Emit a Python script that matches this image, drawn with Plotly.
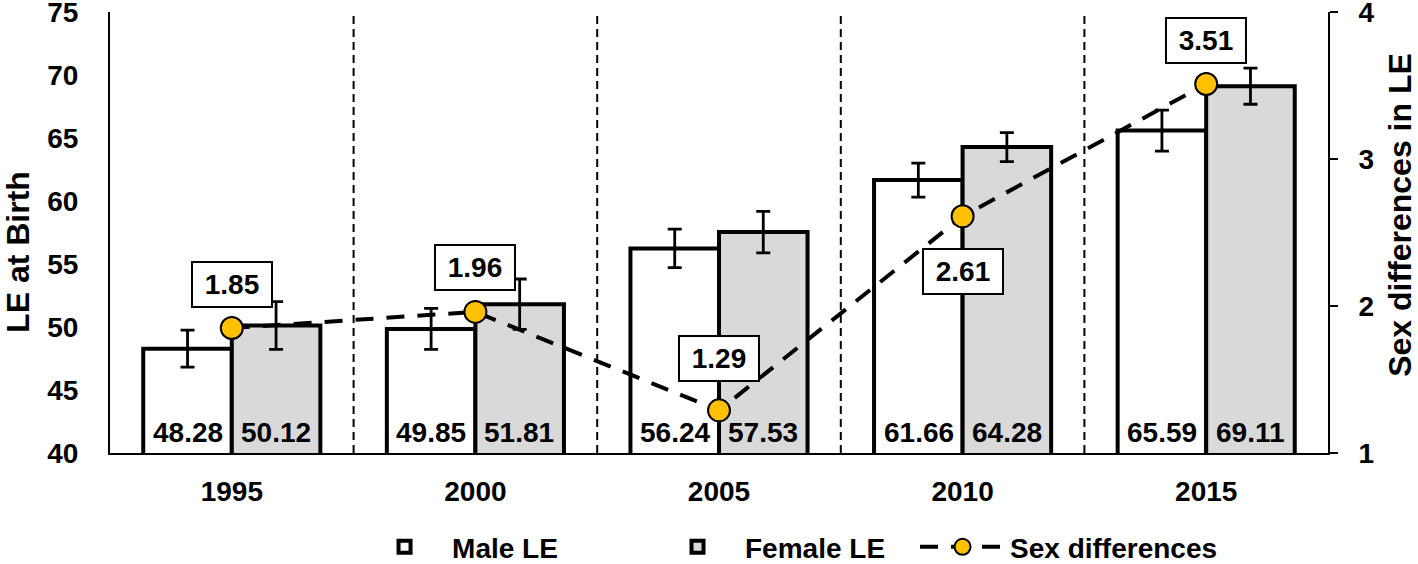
import plotly.graph_objects as go

years = ["1995", "2000", "2005", "2010", "2015"]
male_le = [48.28, 49.85, 56.24, 61.66, 65.59]
female_le = [50.12, 51.81, 57.53, 64.28, 69.11]
male_err = [1.47, 1.63, 1.52, 1.35, 1.63]
female_err = [1.9, 2.0, 1.65, 1.15, 1.43]
sex_diff = [1.85, 1.96, 1.29, 2.61, 3.51]
label_shift = [44, 44, 52, -55, 44]

FONT = "Liberation Sans, Arial, sans-serif"
CLEAR = "rgba(0,0,0,0)"


def bold(size=28):
    return dict(family=FONT, size=size, color="black", weight="bold")


fig = go.Figure()
fig.add_trace(go.Bar(
    x=years, y=male_le, name="Male LE", legend="legend",
    marker=dict(color="white", line=dict(color="black", width=4)),
    error_y=dict(type="data", array=male_err, color="black", thickness=2.8, width=7),
))
fig.add_trace(go.Bar(
    x=years, y=female_le, name="Female LE", legend="legend2",
    marker=dict(color="#d9d9d9", line=dict(color="black", width=4)),
    error_y=dict(type="data", array=female_err, color="black", thickness=2.8, width=7),
))
fig.add_trace(go.Scatter(
    x=years, y=sex_diff, name="Sex differences", yaxis="y2", legend="legend3",
    mode="lines+markers",
    line=dict(color="black", width=4, dash="18px,13px"),
    marker=dict(size=22, color="#FFC000", line=dict(color="black", width=2)),
))
# placeholder so the right-hand tick-label axis is drawn
fig.add_trace(go.Scatter(x=[years[0]], y=[None], yaxis="y3", mode="markers",
                         showlegend=False, hoverinfo="skip"))

# dashed separators between year groups
for i in range(len(years) - 1):
    fig.add_shape(type="line", xref="x", yref="paper", x0=i + 0.5, x1=i + 0.5,
                  y0=0, y1=1, line=dict(color="black", width=2, dash="8px,5px"), layer="below")

# bar value labels at the base of each bar
for i, (m, f) in enumerate(zip(male_le, female_le)):
    fig.add_annotation(x=i, y=40, xref="x", yref="y", text=f"{m:.2f}", showarrow=False,
                       xshift=-44, yanchor="bottom", yshift=3, font=bold(28))
    fig.add_annotation(x=i, y=40, xref="x", yref="y", text=f"{f:.2f}", showarrow=False,
                       xshift=44, yanchor="bottom", yshift=3, font=bold(28))

# sex-difference labels in boxes
for i, (v, s) in enumerate(zip(sex_diff, label_shift)):
    fig.add_annotation(x=i, y=v, xref="x", yref="y2", text=f"{v:.2f}", showarrow=False,
                       yshift=s, font=bold(28), bgcolor="white", bordercolor="black",
                       borderwidth=2, borderpad=3, width=72, height=37)

# axis titles
fig.add_annotation(text="LE at Birth", xref="paper", yref="paper", x=0, y=0.456,
                   xanchor="center", yanchor="middle", xshift=-92, textangle=-90,
                   showarrow=False, font=bold(32))
fig.add_annotation(text="Sex differences in LE", xref="paper", yref="paper", x=1, y=0.54,
                   xanchor="center", yanchor="middle", xshift=72, textangle=-90,
                   showarrow=False, font=bold(32))

leg = dict(orientation="h", xref="container", xanchor="left", yref="container",
           y=0.03, yanchor="middle", font=bold(28), itemwidth=85, bgcolor=CLEAR)

fig.update_layout(
    width=1418, height=564,
    margin=dict(l=110, r=90, t=12, b=111, autoexpand=False),
    paper_bgcolor="white", plot_bgcolor="white",
    barmode="group", bargap=0.273, bargroupgap=0,
    font=bold(28),
    showlegend=True,
    legend=dict(leg, x=0.2518),
    legend2=dict(leg, x=0.4584),
    legend3=dict(leg, x=0.6453),
    xaxis=dict(type="category", range=[-0.5, 4.5], showline=True, linecolor="black",
               linewidth=2, ticks="outside", ticklen=12, tickcolor=CLEAR, showgrid=False,
               tickfont=bold(28), automargin=False),
    yaxis=dict(range=[40, 75], dtick=5, showline=True, linecolor="black", linewidth=2,
               ticks="outside", ticklen=24, tickcolor=CLEAR, showgrid=False, zeroline=False,
               tickfont=bold(28), automargin=False, ticklabeloverflow="allow"),
    yaxis2=dict(range=[1, 4], dtick=1, overlaying="y", side="right", showline=True,
                linecolor="black", linewidth=2, ticks="outside", ticklen=8, tickwidth=2,
                tickcolor="black", showgrid=False, zeroline=False, showticklabels=False,
                automargin=False),
    yaxis3=dict(range=[1, 4], dtick=1, overlaying="y", side="right", showline=False,
                ticks="outside", ticklen=24, tickcolor=CLEAR, showgrid=False, zeroline=False,
                tickfont=bold(28), automargin=False, ticklabeloverflow="allow"),
)

fig.write_html("out.html", post_script="document.body.style.margin='0';",
               config={"displayModeBar": False})
